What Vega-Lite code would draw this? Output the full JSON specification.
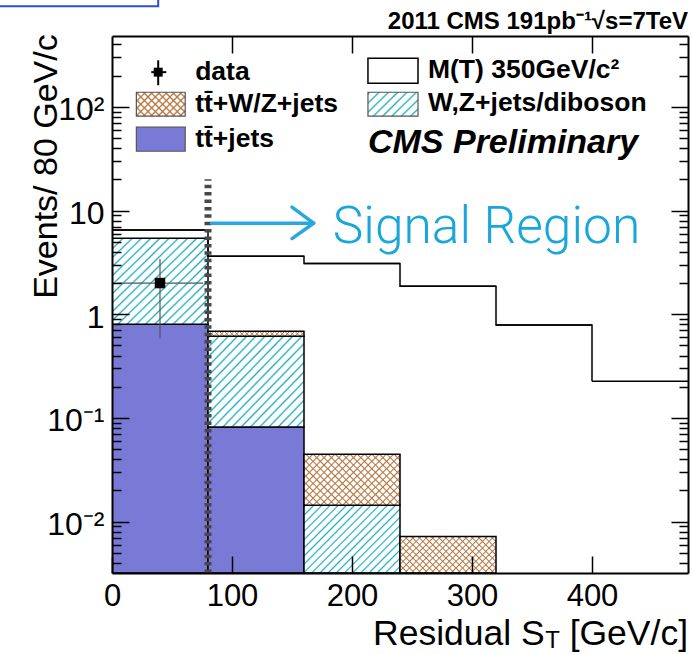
{
  "$schema": "https://vega.github.io/schema/vega-lite/v6.json",
  "width": 576,
  "height": 537,
  "autosize": {"type": "none"},
  "padding": {"left": 112, "top": 36, "right": 5, "bottom": 81},
  "background": "#ffffff",
  "config": {"view": {"stroke": null}, "font": "Liberation Sans"},
  "datasets": {
    "bkg": [
      {"process": "tt̄+jets", "proc": "tt", "lo": 0, "hi": 80, "top": 0.8},
      {"process": "tt̄+jets", "proc": "tt", "lo": 80, "hi": 160, "top": 0.082},
      {"process": "W,Z+jets/diboson", "proc": "wz", "lo": 0, "hi": 80, "bottom": 0.8, "top": 5.4},
      {"process": "W,Z+jets/diboson", "proc": "wz", "lo": 80, "hi": 160, "bottom": 0.082, "top": 0.614},
      {"process": "W,Z+jets/diboson", "proc": "wz", "lo": 160, "hi": 240, "top": 0.0144},
      {"process": "tt̄+W/Z+jets", "proc": "ttv", "lo": 80, "hi": 160, "bottom": 0.614, "top": 0.685},
      {"process": "tt̄+W/Z+jets", "proc": "ttv", "lo": 160, "hi": 240, "bottom": 0.0144, "top": 0.0447},
      {"process": "tt̄+W/Z+jets", "proc": "ttv", "lo": 240, "hi": 320, "top": 0.0072}
    ],
    "sig": [
      {"lo": 0, "hi": 80, "sig": 6.5},
      {"lo": 80, "hi": 160, "sig": 3.63},
      {"lo": 160, "hi": 240, "sig": 3.08},
      {"lo": 240, "hi": 320, "sig": 1.86},
      {"lo": 320, "hi": 400, "sig": 0.79},
      {"lo": 400, "hi": 480, "sig": 0.226}
    ],
    "obs": [
      {"x": 40, "xlo": 4, "xhi": 76, "n": 2, "lo": 0.586, "hi": 3.414}
    ]
  },
  "layer": [
    {
      "layer": [
        {
          "data": {"name": "bkg"},
          "transform": [{"filter": "datum.proc == 'tt'"}],
          "mark": {"type": "rect", "fill": "#787ad6", "stroke": "#000", "strokeWidth": 1.5, "clip": true},
          "encoding": {
            "x": {"field": "lo", "type": "quantitative", "scale": {"domain": [0, 480], "nice": false, "zero": false}, "axis": null},
            "x2": {"field": "hi"},
            "y": {"field": "top", "type": "quantitative", "scale": {"type": "log", "domain": [0.0032, 482], "nice": false}, "axis": null},
            "y2": {"datum": 0.0032}
          }
        },
        {
          "data": {"name": "bkg"},
          "transform": [{"filter": "datum.proc == 'wz' && datum.lo < 160"}],
          "mark": {"type": "rect", "clip": true, "stroke": "#000", "strokeWidth": 1.5,
            "fill": {"gradient": "linear", "x1": 0, "y1": 0, "x2": 1.04, "y2": 0.956, "stops": [
              {"offset":0,"color":"#fff"},{"offset":0.01,"color":"#1aaec1"},{"offset":0.02,"color":"#fff"},
              {"offset":0.05,"color":"#fff"},{"offset":0.06,"color":"#1aaec1"},{"offset":0.07,"color":"#fff"},
              {"offset":0.1,"color":"#fff"},{"offset":0.11,"color":"#1aaec1"},{"offset":0.12,"color":"#fff"},
              {"offset":0.15,"color":"#fff"},{"offset":0.16,"color":"#1aaec1"},{"offset":0.17,"color":"#fff"},
              {"offset":0.2,"color":"#fff"},{"offset":0.21,"color":"#1aaec1"},{"offset":0.22,"color":"#fff"},
              {"offset":0.25,"color":"#fff"},{"offset":0.26,"color":"#1aaec1"},{"offset":0.27,"color":"#fff"},
              {"offset":0.3,"color":"#fff"},{"offset":0.31,"color":"#1aaec1"},{"offset":0.32,"color":"#fff"},
              {"offset":0.35,"color":"#fff"},{"offset":0.36,"color":"#1aaec1"},{"offset":0.37,"color":"#fff"},
              {"offset":0.4,"color":"#fff"},{"offset":0.41,"color":"#1aaec1"},{"offset":0.42,"color":"#fff"},
              {"offset":0.45,"color":"#fff"},{"offset":0.46,"color":"#1aaec1"},{"offset":0.47,"color":"#fff"},
              {"offset":0.5,"color":"#fff"},{"offset":0.51,"color":"#1aaec1"},{"offset":0.52,"color":"#fff"},
              {"offset":0.55,"color":"#fff"},{"offset":0.56,"color":"#1aaec1"},{"offset":0.57,"color":"#fff"},
              {"offset":0.6,"color":"#fff"},{"offset":0.61,"color":"#1aaec1"},{"offset":0.62,"color":"#fff"},
              {"offset":0.65,"color":"#fff"},{"offset":0.66,"color":"#1aaec1"},{"offset":0.67,"color":"#fff"},
              {"offset":0.7,"color":"#fff"},{"offset":0.71,"color":"#1aaec1"},{"offset":0.72,"color":"#fff"},
              {"offset":0.75,"color":"#fff"},{"offset":0.76,"color":"#1aaec1"},{"offset":0.77,"color":"#fff"},
              {"offset":0.8,"color":"#fff"},{"offset":0.81,"color":"#1aaec1"},{"offset":0.82,"color":"#fff"},
              {"offset":0.85,"color":"#fff"},{"offset":0.86,"color":"#1aaec1"},{"offset":0.87,"color":"#fff"},
              {"offset":0.9,"color":"#fff"},{"offset":0.91,"color":"#1aaec1"},{"offset":0.92,"color":"#fff"},
              {"offset":0.95,"color":"#fff"},{"offset":0.96,"color":"#1aaec1"},{"offset":0.97,"color":"#fff"}]}},
          "encoding": {
            "x": {"field": "lo", "type": "quantitative", "scale": {"domain": [0, 480], "nice": false, "zero": false}, "axis": null},
            "x2": {"field": "hi"},
            "y": {"field": "top", "type": "quantitative", "scale": {"type": "log", "domain": [0.0032, 482], "nice": false}, "axis": null},
            "y2": {"field": "bottom"}
          }
        },
        {
          "data": {"name": "bkg"},
          "transform": [{"filter": "datum.proc == 'wz' && datum.lo == 160"}],
          "mark": {"type": "rect", "clip": true, "stroke": "#000", "strokeWidth": 1.5,
            "fill": {"gradient": "linear", "x1": 0, "y1": 0, "x2": 1.1392, "y2": 0.8025, "stops": [
              {"offset":0,"color":"#fff"},{"offset":0.01,"color":"#1aaec1"},{"offset":0.02,"color":"#fff"},
              {"offset":0.05,"color":"#fff"},{"offset":0.06,"color":"#1aaec1"},{"offset":0.07,"color":"#fff"},
              {"offset":0.1,"color":"#fff"},{"offset":0.11,"color":"#1aaec1"},{"offset":0.12,"color":"#fff"},
              {"offset":0.15,"color":"#fff"},{"offset":0.16,"color":"#1aaec1"},{"offset":0.17,"color":"#fff"},
              {"offset":0.2,"color":"#fff"},{"offset":0.21,"color":"#1aaec1"},{"offset":0.22,"color":"#fff"},
              {"offset":0.25,"color":"#fff"},{"offset":0.26,"color":"#1aaec1"},{"offset":0.27,"color":"#fff"},
              {"offset":0.3,"color":"#fff"},{"offset":0.31,"color":"#1aaec1"},{"offset":0.32,"color":"#fff"},
              {"offset":0.35,"color":"#fff"},{"offset":0.36,"color":"#1aaec1"},{"offset":0.37,"color":"#fff"},
              {"offset":0.4,"color":"#fff"},{"offset":0.41,"color":"#1aaec1"},{"offset":0.42,"color":"#fff"},
              {"offset":0.45,"color":"#fff"},{"offset":0.46,"color":"#1aaec1"},{"offset":0.47,"color":"#fff"},
              {"offset":0.5,"color":"#fff"},{"offset":0.51,"color":"#1aaec1"},{"offset":0.52,"color":"#fff"},
              {"offset":0.55,"color":"#fff"},{"offset":0.56,"color":"#1aaec1"},{"offset":0.57,"color":"#fff"},
              {"offset":0.6,"color":"#fff"},{"offset":0.61,"color":"#1aaec1"},{"offset":0.62,"color":"#fff"},
              {"offset":0.65,"color":"#fff"},{"offset":0.66,"color":"#1aaec1"},{"offset":0.67,"color":"#fff"},
              {"offset":0.7,"color":"#fff"},{"offset":0.71,"color":"#1aaec1"},{"offset":0.72,"color":"#fff"},
              {"offset":0.75,"color":"#fff"},{"offset":0.76,"color":"#1aaec1"},{"offset":0.77,"color":"#fff"},
              {"offset":0.8,"color":"#fff"},{"offset":0.81,"color":"#1aaec1"},{"offset":0.82,"color":"#fff"},
              {"offset":0.85,"color":"#fff"},{"offset":0.86,"color":"#1aaec1"},{"offset":0.87,"color":"#fff"},
              {"offset":0.9,"color":"#fff"},{"offset":0.91,"color":"#1aaec1"},{"offset":0.92,"color":"#fff"},
              {"offset":0.95,"color":"#fff"},{"offset":0.96,"color":"#1aaec1"},{"offset":0.97,"color":"#fff"}]}},
          "encoding": {
            "x": {"field": "lo", "type": "quantitative", "scale": {"domain": [0, 480], "nice": false, "zero": false}, "axis": null},
            "x2": {"field": "hi"},
            "y": {"field": "top", "type": "quantitative", "scale": {"type": "log", "domain": [0.0032, 482], "nice": false}, "axis": null},
            "y2": {"datum": 0.0032}
          }
        },
        {
          "data": {"name": "bkg"},
          "transform": [{"filter": "datum.proc == 'ttv' && datum.lo == 80"}],
          "mark": {"type": "rect", "clip": true,
            "fill": {"gradient": "linear", "x1": 0, "y1": 0, "x2": 1.0483, "y2": 0.0534, "stops": [
              {"offset":0,"color":"#fff"},{"offset":0.01,"color":"#b5733c"},{"offset":0.02,"color":"#fff"},
              {"offset":0.05,"color":"#fff"},{"offset":0.06,"color":"#b5733c"},{"offset":0.07,"color":"#fff"},
              {"offset":0.1,"color":"#fff"},{"offset":0.11,"color":"#b5733c"},{"offset":0.12,"color":"#fff"},
              {"offset":0.15,"color":"#fff"},{"offset":0.16,"color":"#b5733c"},{"offset":0.17,"color":"#fff"},
              {"offset":0.2,"color":"#fff"},{"offset":0.21,"color":"#b5733c"},{"offset":0.22,"color":"#fff"},
              {"offset":0.25,"color":"#fff"},{"offset":0.26,"color":"#b5733c"},{"offset":0.27,"color":"#fff"},
              {"offset":0.3,"color":"#fff"},{"offset":0.31,"color":"#b5733c"},{"offset":0.32,"color":"#fff"},
              {"offset":0.35,"color":"#fff"},{"offset":0.36,"color":"#b5733c"},{"offset":0.37,"color":"#fff"},
              {"offset":0.4,"color":"#fff"},{"offset":0.41,"color":"#b5733c"},{"offset":0.42,"color":"#fff"},
              {"offset":0.45,"color":"#fff"},{"offset":0.46,"color":"#b5733c"},{"offset":0.47,"color":"#fff"},
              {"offset":0.5,"color":"#fff"},{"offset":0.51,"color":"#b5733c"},{"offset":0.52,"color":"#fff"},
              {"offset":0.55,"color":"#fff"},{"offset":0.56,"color":"#b5733c"},{"offset":0.57,"color":"#fff"},
              {"offset":0.6,"color":"#fff"},{"offset":0.61,"color":"#b5733c"},{"offset":0.62,"color":"#fff"},
              {"offset":0.65,"color":"#fff"},{"offset":0.66,"color":"#b5733c"},{"offset":0.67,"color":"#fff"},
              {"offset":0.7,"color":"#fff"},{"offset":0.71,"color":"#b5733c"},{"offset":0.72,"color":"#fff"},
              {"offset":0.75,"color":"#fff"},{"offset":0.76,"color":"#b5733c"},{"offset":0.77,"color":"#fff"},
              {"offset":0.8,"color":"#fff"},{"offset":0.81,"color":"#b5733c"},{"offset":0.82,"color":"#fff"},
              {"offset":0.85,"color":"#fff"},{"offset":0.86,"color":"#b5733c"},{"offset":0.87,"color":"#fff"},
              {"offset":0.9,"color":"#fff"},{"offset":0.91,"color":"#b5733c"},{"offset":0.92,"color":"#fff"},
              {"offset":0.95,"color":"#fff"},{"offset":0.96,"color":"#b5733c"},{"offset":0.97,"color":"#fff"}]}},
          "encoding": {
            "x": {"field": "lo", "type": "quantitative", "scale": {"domain": [0, 480], "nice": false, "zero": false}, "axis": null},
            "x2": {"field": "hi"},
            "y": {"field": "top", "type": "quantitative", "scale": {"type": "log", "domain": [0.0032, 482], "nice": false}, "axis": null},
            "y2": {"field": "bottom"}
          }
        },
        {
          "data": {"name": "bkg"},
          "transform": [{"filter": "datum.proc == 'ttv' && datum.lo == 80"}],
          "mark": {"type": "rect", "clip": true, "stroke": "#000", "strokeWidth": 1.5,
            "fill": {"gradient": "linear", "x1": 0, "y1": 1, "x2": 1.0483, "y2": 0.9466, "stops": [
              {"offset":0,"color":"rgba(181,115,60,0)"},{"offset":0.01,"color":"#b5733c"},{"offset":0.02,"color":"rgba(181,115,60,0)"},
              {"offset":0.05,"color":"rgba(181,115,60,0)"},{"offset":0.06,"color":"#b5733c"},{"offset":0.07,"color":"rgba(181,115,60,0)"},
              {"offset":0.1,"color":"rgba(181,115,60,0)"},{"offset":0.11,"color":"#b5733c"},{"offset":0.12,"color":"rgba(181,115,60,0)"},
              {"offset":0.15,"color":"rgba(181,115,60,0)"},{"offset":0.16,"color":"#b5733c"},{"offset":0.17,"color":"rgba(181,115,60,0)"},
              {"offset":0.2,"color":"rgba(181,115,60,0)"},{"offset":0.21,"color":"#b5733c"},{"offset":0.22,"color":"rgba(181,115,60,0)"},
              {"offset":0.25,"color":"rgba(181,115,60,0)"},{"offset":0.26,"color":"#b5733c"},{"offset":0.27,"color":"rgba(181,115,60,0)"},
              {"offset":0.3,"color":"rgba(181,115,60,0)"},{"offset":0.31,"color":"#b5733c"},{"offset":0.32,"color":"rgba(181,115,60,0)"},
              {"offset":0.35,"color":"rgba(181,115,60,0)"},{"offset":0.36,"color":"#b5733c"},{"offset":0.37,"color":"rgba(181,115,60,0)"},
              {"offset":0.4,"color":"rgba(181,115,60,0)"},{"offset":0.41,"color":"#b5733c"},{"offset":0.42,"color":"rgba(181,115,60,0)"},
              {"offset":0.45,"color":"rgba(181,115,60,0)"},{"offset":0.46,"color":"#b5733c"},{"offset":0.47,"color":"rgba(181,115,60,0)"},
              {"offset":0.5,"color":"rgba(181,115,60,0)"},{"offset":0.51,"color":"#b5733c"},{"offset":0.52,"color":"rgba(181,115,60,0)"},
              {"offset":0.55,"color":"rgba(181,115,60,0)"},{"offset":0.56,"color":"#b5733c"},{"offset":0.57,"color":"rgba(181,115,60,0)"},
              {"offset":0.6,"color":"rgba(181,115,60,0)"},{"offset":0.61,"color":"#b5733c"},{"offset":0.62,"color":"rgba(181,115,60,0)"},
              {"offset":0.65,"color":"rgba(181,115,60,0)"},{"offset":0.66,"color":"#b5733c"},{"offset":0.67,"color":"rgba(181,115,60,0)"},
              {"offset":0.7,"color":"rgba(181,115,60,0)"},{"offset":0.71,"color":"#b5733c"},{"offset":0.72,"color":"rgba(181,115,60,0)"},
              {"offset":0.75,"color":"rgba(181,115,60,0)"},{"offset":0.76,"color":"#b5733c"},{"offset":0.77,"color":"rgba(181,115,60,0)"},
              {"offset":0.8,"color":"rgba(181,115,60,0)"},{"offset":0.81,"color":"#b5733c"},{"offset":0.82,"color":"rgba(181,115,60,0)"},
              {"offset":0.85,"color":"rgba(181,115,60,0)"},{"offset":0.86,"color":"#b5733c"},{"offset":0.87,"color":"rgba(181,115,60,0)"},
              {"offset":0.9,"color":"rgba(181,115,60,0)"},{"offset":0.91,"color":"#b5733c"},{"offset":0.92,"color":"rgba(181,115,60,0)"},
              {"offset":0.95,"color":"rgba(181,115,60,0)"},{"offset":0.96,"color":"#b5733c"},{"offset":0.97,"color":"rgba(181,115,60,0)"}]}},
          "encoding": {
            "x": {"field": "lo", "type": "quantitative", "scale": {"domain": [0, 480], "nice": false, "zero": false}, "axis": null},
            "x2": {"field": "hi"},
            "y": {"field": "top", "type": "quantitative", "scale": {"type": "log", "domain": [0.0032, 482], "nice": false}, "axis": null},
            "y2": {"field": "bottom"}
          }
        },
        {
          "data": {"name": "bkg"},
          "transform": [{"filter": "datum.proc == 'ttv' && datum.lo == 160"}],
          "mark": {"type": "rect", "clip": true,
            "fill": {"gradient": "linear", "x1": 0, "y1": 0, "x2": 1.1943, "y2": 0.6338, "stops": [
              {"offset":0,"color":"#fff"},{"offset":0.01,"color":"#b5733c"},{"offset":0.02,"color":"#fff"},
              {"offset":0.05,"color":"#fff"},{"offset":0.06,"color":"#b5733c"},{"offset":0.07,"color":"#fff"},
              {"offset":0.1,"color":"#fff"},{"offset":0.11,"color":"#b5733c"},{"offset":0.12,"color":"#fff"},
              {"offset":0.15,"color":"#fff"},{"offset":0.16,"color":"#b5733c"},{"offset":0.17,"color":"#fff"},
              {"offset":0.2,"color":"#fff"},{"offset":0.21,"color":"#b5733c"},{"offset":0.22,"color":"#fff"},
              {"offset":0.25,"color":"#fff"},{"offset":0.26,"color":"#b5733c"},{"offset":0.27,"color":"#fff"},
              {"offset":0.3,"color":"#fff"},{"offset":0.31,"color":"#b5733c"},{"offset":0.32,"color":"#fff"},
              {"offset":0.35,"color":"#fff"},{"offset":0.36,"color":"#b5733c"},{"offset":0.37,"color":"#fff"},
              {"offset":0.4,"color":"#fff"},{"offset":0.41,"color":"#b5733c"},{"offset":0.42,"color":"#fff"},
              {"offset":0.45,"color":"#fff"},{"offset":0.46,"color":"#b5733c"},{"offset":0.47,"color":"#fff"},
              {"offset":0.5,"color":"#fff"},{"offset":0.51,"color":"#b5733c"},{"offset":0.52,"color":"#fff"},
              {"offset":0.55,"color":"#fff"},{"offset":0.56,"color":"#b5733c"},{"offset":0.57,"color":"#fff"},
              {"offset":0.6,"color":"#fff"},{"offset":0.61,"color":"#b5733c"},{"offset":0.62,"color":"#fff"},
              {"offset":0.65,"color":"#fff"},{"offset":0.66,"color":"#b5733c"},{"offset":0.67,"color":"#fff"},
              {"offset":0.7,"color":"#fff"},{"offset":0.71,"color":"#b5733c"},{"offset":0.72,"color":"#fff"},
              {"offset":0.75,"color":"#fff"},{"offset":0.76,"color":"#b5733c"},{"offset":0.77,"color":"#fff"},
              {"offset":0.8,"color":"#fff"},{"offset":0.81,"color":"#b5733c"},{"offset":0.82,"color":"#fff"},
              {"offset":0.85,"color":"#fff"},{"offset":0.86,"color":"#b5733c"},{"offset":0.87,"color":"#fff"},
              {"offset":0.9,"color":"#fff"},{"offset":0.91,"color":"#b5733c"},{"offset":0.92,"color":"#fff"},
              {"offset":0.95,"color":"#fff"},{"offset":0.96,"color":"#b5733c"},{"offset":0.97,"color":"#fff"}]}},
          "encoding": {
            "x": {"field": "lo", "type": "quantitative", "scale": {"domain": [0, 480], "nice": false, "zero": false}, "axis": null},
            "x2": {"field": "hi"},
            "y": {"field": "top", "type": "quantitative", "scale": {"type": "log", "domain": [0.0032, 482], "nice": false}, "axis": null},
            "y2": {"field": "bottom"}
          }
        },
        {
          "data": {"name": "bkg"},
          "transform": [{"filter": "datum.proc == 'ttv' && datum.lo == 160"}],
          "mark": {"type": "rect", "clip": true, "stroke": "#000", "strokeWidth": 1.5,
            "fill": {"gradient": "linear", "x1": 0, "y1": 1, "x2": 1.1943, "y2": 0.3662, "stops": [
              {"offset":0,"color":"rgba(181,115,60,0)"},{"offset":0.01,"color":"#b5733c"},{"offset":0.02,"color":"rgba(181,115,60,0)"},
              {"offset":0.05,"color":"rgba(181,115,60,0)"},{"offset":0.06,"color":"#b5733c"},{"offset":0.07,"color":"rgba(181,115,60,0)"},
              {"offset":0.1,"color":"rgba(181,115,60,0)"},{"offset":0.11,"color":"#b5733c"},{"offset":0.12,"color":"rgba(181,115,60,0)"},
              {"offset":0.15,"color":"rgba(181,115,60,0)"},{"offset":0.16,"color":"#b5733c"},{"offset":0.17,"color":"rgba(181,115,60,0)"},
              {"offset":0.2,"color":"rgba(181,115,60,0)"},{"offset":0.21,"color":"#b5733c"},{"offset":0.22,"color":"rgba(181,115,60,0)"},
              {"offset":0.25,"color":"rgba(181,115,60,0)"},{"offset":0.26,"color":"#b5733c"},{"offset":0.27,"color":"rgba(181,115,60,0)"},
              {"offset":0.3,"color":"rgba(181,115,60,0)"},{"offset":0.31,"color":"#b5733c"},{"offset":0.32,"color":"rgba(181,115,60,0)"},
              {"offset":0.35,"color":"rgba(181,115,60,0)"},{"offset":0.36,"color":"#b5733c"},{"offset":0.37,"color":"rgba(181,115,60,0)"},
              {"offset":0.4,"color":"rgba(181,115,60,0)"},{"offset":0.41,"color":"#b5733c"},{"offset":0.42,"color":"rgba(181,115,60,0)"},
              {"offset":0.45,"color":"rgba(181,115,60,0)"},{"offset":0.46,"color":"#b5733c"},{"offset":0.47,"color":"rgba(181,115,60,0)"},
              {"offset":0.5,"color":"rgba(181,115,60,0)"},{"offset":0.51,"color":"#b5733c"},{"offset":0.52,"color":"rgba(181,115,60,0)"},
              {"offset":0.55,"color":"rgba(181,115,60,0)"},{"offset":0.56,"color":"#b5733c"},{"offset":0.57,"color":"rgba(181,115,60,0)"},
              {"offset":0.6,"color":"rgba(181,115,60,0)"},{"offset":0.61,"color":"#b5733c"},{"offset":0.62,"color":"rgba(181,115,60,0)"},
              {"offset":0.65,"color":"rgba(181,115,60,0)"},{"offset":0.66,"color":"#b5733c"},{"offset":0.67,"color":"rgba(181,115,60,0)"},
              {"offset":0.7,"color":"rgba(181,115,60,0)"},{"offset":0.71,"color":"#b5733c"},{"offset":0.72,"color":"rgba(181,115,60,0)"},
              {"offset":0.75,"color":"rgba(181,115,60,0)"},{"offset":0.76,"color":"#b5733c"},{"offset":0.77,"color":"rgba(181,115,60,0)"},
              {"offset":0.8,"color":"rgba(181,115,60,0)"},{"offset":0.81,"color":"#b5733c"},{"offset":0.82,"color":"rgba(181,115,60,0)"},
              {"offset":0.85,"color":"rgba(181,115,60,0)"},{"offset":0.86,"color":"#b5733c"},{"offset":0.87,"color":"rgba(181,115,60,0)"},
              {"offset":0.9,"color":"rgba(181,115,60,0)"},{"offset":0.91,"color":"#b5733c"},{"offset":0.92,"color":"rgba(181,115,60,0)"},
              {"offset":0.95,"color":"rgba(181,115,60,0)"},{"offset":0.96,"color":"#b5733c"},{"offset":0.97,"color":"rgba(181,115,60,0)"}]}},
          "encoding": {
            "x": {"field": "lo", "type": "quantitative", "scale": {"domain": [0, 480], "nice": false, "zero": false}, "axis": null},
            "x2": {"field": "hi"},
            "y": {"field": "top", "type": "quantitative", "scale": {"type": "log", "domain": [0.0032, 482], "nice": false}, "axis": null},
            "y2": {"field": "bottom"}
          }
        },
        {
          "data": {"name": "bkg"},
          "transform": [{"filter": "datum.proc == 'ttv' && datum.lo == 240"}],
          "mark": {"type": "rect", "clip": true,
            "fill": {"gradient": "linear", "x1": 0, "y1": 0, "x2": 1.2059, "y2": 0.458, "stops": [
              {"offset":0,"color":"#fff"},{"offset":0.01,"color":"#b5733c"},{"offset":0.02,"color":"#fff"},
              {"offset":0.05,"color":"#fff"},{"offset":0.06,"color":"#b5733c"},{"offset":0.07,"color":"#fff"},
              {"offset":0.1,"color":"#fff"},{"offset":0.11,"color":"#b5733c"},{"offset":0.12,"color":"#fff"},
              {"offset":0.15,"color":"#fff"},{"offset":0.16,"color":"#b5733c"},{"offset":0.17,"color":"#fff"},
              {"offset":0.2,"color":"#fff"},{"offset":0.21,"color":"#b5733c"},{"offset":0.22,"color":"#fff"},
              {"offset":0.25,"color":"#fff"},{"offset":0.26,"color":"#b5733c"},{"offset":0.27,"color":"#fff"},
              {"offset":0.3,"color":"#fff"},{"offset":0.31,"color":"#b5733c"},{"offset":0.32,"color":"#fff"},
              {"offset":0.35,"color":"#fff"},{"offset":0.36,"color":"#b5733c"},{"offset":0.37,"color":"#fff"},
              {"offset":0.4,"color":"#fff"},{"offset":0.41,"color":"#b5733c"},{"offset":0.42,"color":"#fff"},
              {"offset":0.45,"color":"#fff"},{"offset":0.46,"color":"#b5733c"},{"offset":0.47,"color":"#fff"},
              {"offset":0.5,"color":"#fff"},{"offset":0.51,"color":"#b5733c"},{"offset":0.52,"color":"#fff"},
              {"offset":0.55,"color":"#fff"},{"offset":0.56,"color":"#b5733c"},{"offset":0.57,"color":"#fff"},
              {"offset":0.6,"color":"#fff"},{"offset":0.61,"color":"#b5733c"},{"offset":0.62,"color":"#fff"},
              {"offset":0.65,"color":"#fff"},{"offset":0.66,"color":"#b5733c"},{"offset":0.67,"color":"#fff"},
              {"offset":0.7,"color":"#fff"},{"offset":0.71,"color":"#b5733c"},{"offset":0.72,"color":"#fff"},
              {"offset":0.75,"color":"#fff"},{"offset":0.76,"color":"#b5733c"},{"offset":0.77,"color":"#fff"},
              {"offset":0.8,"color":"#fff"},{"offset":0.81,"color":"#b5733c"},{"offset":0.82,"color":"#fff"},
              {"offset":0.85,"color":"#fff"},{"offset":0.86,"color":"#b5733c"},{"offset":0.87,"color":"#fff"},
              {"offset":0.9,"color":"#fff"},{"offset":0.91,"color":"#b5733c"},{"offset":0.92,"color":"#fff"},
              {"offset":0.95,"color":"#fff"},{"offset":0.96,"color":"#b5733c"},{"offset":0.97,"color":"#fff"}]}},
          "encoding": {
            "x": {"field": "lo", "type": "quantitative", "scale": {"domain": [0, 480], "nice": false, "zero": false}, "axis": null},
            "x2": {"field": "hi"},
            "y": {"field": "top", "type": "quantitative", "scale": {"type": "log", "domain": [0.0032, 482], "nice": false}, "axis": null},
            "y2": {"datum": 0.0032}
          }
        },
        {
          "data": {"name": "bkg"},
          "transform": [{"filter": "datum.proc == 'ttv' && datum.lo == 240"}],
          "mark": {"type": "rect", "clip": true, "stroke": "#000", "strokeWidth": 1.5,
            "fill": {"gradient": "linear", "x1": 0, "y1": 1, "x2": 1.2059, "y2": 0.542, "stops": [
              {"offset":0,"color":"rgba(181,115,60,0)"},{"offset":0.01,"color":"#b5733c"},{"offset":0.02,"color":"rgba(181,115,60,0)"},
              {"offset":0.05,"color":"rgba(181,115,60,0)"},{"offset":0.06,"color":"#b5733c"},{"offset":0.07,"color":"rgba(181,115,60,0)"},
              {"offset":0.1,"color":"rgba(181,115,60,0)"},{"offset":0.11,"color":"#b5733c"},{"offset":0.12,"color":"rgba(181,115,60,0)"},
              {"offset":0.15,"color":"rgba(181,115,60,0)"},{"offset":0.16,"color":"#b5733c"},{"offset":0.17,"color":"rgba(181,115,60,0)"},
              {"offset":0.2,"color":"rgba(181,115,60,0)"},{"offset":0.21,"color":"#b5733c"},{"offset":0.22,"color":"rgba(181,115,60,0)"},
              {"offset":0.25,"color":"rgba(181,115,60,0)"},{"offset":0.26,"color":"#b5733c"},{"offset":0.27,"color":"rgba(181,115,60,0)"},
              {"offset":0.3,"color":"rgba(181,115,60,0)"},{"offset":0.31,"color":"#b5733c"},{"offset":0.32,"color":"rgba(181,115,60,0)"},
              {"offset":0.35,"color":"rgba(181,115,60,0)"},{"offset":0.36,"color":"#b5733c"},{"offset":0.37,"color":"rgba(181,115,60,0)"},
              {"offset":0.4,"color":"rgba(181,115,60,0)"},{"offset":0.41,"color":"#b5733c"},{"offset":0.42,"color":"rgba(181,115,60,0)"},
              {"offset":0.45,"color":"rgba(181,115,60,0)"},{"offset":0.46,"color":"#b5733c"},{"offset":0.47,"color":"rgba(181,115,60,0)"},
              {"offset":0.5,"color":"rgba(181,115,60,0)"},{"offset":0.51,"color":"#b5733c"},{"offset":0.52,"color":"rgba(181,115,60,0)"},
              {"offset":0.55,"color":"rgba(181,115,60,0)"},{"offset":0.56,"color":"#b5733c"},{"offset":0.57,"color":"rgba(181,115,60,0)"},
              {"offset":0.6,"color":"rgba(181,115,60,0)"},{"offset":0.61,"color":"#b5733c"},{"offset":0.62,"color":"rgba(181,115,60,0)"},
              {"offset":0.65,"color":"rgba(181,115,60,0)"},{"offset":0.66,"color":"#b5733c"},{"offset":0.67,"color":"rgba(181,115,60,0)"},
              {"offset":0.7,"color":"rgba(181,115,60,0)"},{"offset":0.71,"color":"#b5733c"},{"offset":0.72,"color":"rgba(181,115,60,0)"},
              {"offset":0.75,"color":"rgba(181,115,60,0)"},{"offset":0.76,"color":"#b5733c"},{"offset":0.77,"color":"rgba(181,115,60,0)"},
              {"offset":0.8,"color":"rgba(181,115,60,0)"},{"offset":0.81,"color":"#b5733c"},{"offset":0.82,"color":"rgba(181,115,60,0)"},
              {"offset":0.85,"color":"rgba(181,115,60,0)"},{"offset":0.86,"color":"#b5733c"},{"offset":0.87,"color":"rgba(181,115,60,0)"},
              {"offset":0.9,"color":"rgba(181,115,60,0)"},{"offset":0.91,"color":"#b5733c"},{"offset":0.92,"color":"rgba(181,115,60,0)"},
              {"offset":0.95,"color":"rgba(181,115,60,0)"},{"offset":0.96,"color":"#b5733c"},{"offset":0.97,"color":"rgba(181,115,60,0)"}]}},
          "encoding": {
            "x": {"field": "lo", "type": "quantitative", "scale": {"domain": [0, 480], "nice": false, "zero": false}, "axis": null},
            "x2": {"field": "hi"},
            "y": {"field": "top", "type": "quantitative", "scale": {"type": "log", "domain": [0.0032, 482], "nice": false}, "axis": null},
            "y2": {"datum": 0.0032}
          }
        },
        {
          "data": {"name": "sig"},
          "mark": {"type": "rule", "color": "#000", "strokeWidth": 1.5, "clip": true},
          "encoding": {
            "x": {"field": "lo", "type": "quantitative", "scale": {"domain": [0, 480], "nice": false, "zero": false}, "axis": null},
            "x2": {"field": "hi"},
            "y": {"field": "sig", "type": "quantitative", "scale": {"type": "log", "domain": [0.0032, 482], "nice": false}, "axis": null}
          }
        },
        {
          "data": {"name": "sig"},
          "mark": {"type": "line", "interpolate": "step-after", "color": "#000", "strokeWidth": 1.5, "clip": true},
          "encoding": {
            "x": {"field": "lo", "type": "quantitative", "scale": {"domain": [0, 480], "nice": false, "zero": false}, "axis": null},
            "y": {"field": "sig", "type": "quantitative", "scale": {"type": "log", "domain": [0.0032, 482], "nice": false}, "axis": null}
          }
        },
        {
          "data": {"values": [{}]},
          "mark": {"type": "rule", "color": "#484848", "strokeWidth": 7, "strokeDash": [3.5, 3.9]},
          "encoding": {
            "x": {"datum": 80, "type": "quantitative", "scale": {"domain": [0, 480], "nice": false, "zero": false}, "axis": null},
            "y": {"datum": 0.0032, "type": "quantitative", "scale": {"type": "log", "domain": [0.0032, 482], "nice": false}, "axis": null},
            "y2": {"datum": 20}
          }
        },
        {
          "data": {"name": "obs"},
          "mark": {"type": "rule", "color": "#555", "strokeWidth": 1.2},
          "encoding": {
            "x": {"field": "xlo", "type": "quantitative", "scale": {"domain": [0, 480], "nice": false, "zero": false}, "axis": null},
            "x2": {"field": "xhi"},
            "y": {"field": "n", "type": "quantitative", "scale": {"type": "log", "domain": [0.0032, 482], "nice": false}, "axis": null}
          }
        },
        {
          "data": {"name": "obs"},
          "mark": {"type": "rule", "color": "#555", "strokeWidth": 1.2},
          "encoding": {
            "x": {"field": "x", "type": "quantitative", "scale": {"domain": [0, 480], "nice": false, "zero": false}, "axis": null},
            "y": {"field": "lo", "type": "quantitative", "scale": {"type": "log", "domain": [0.0032, 482], "nice": false}, "axis": null},
            "y2": {"field": "hi"}
          }
        },
        {
          "data": {"name": "obs"},
          "mark": {"type": "point", "shape": "square", "filled": true, "fill": "#000", "size": 110, "opacity": 1},
          "encoding": {
            "x": {"field": "x", "type": "quantitative", "scale": {"domain": [0, 480], "nice": false, "zero": false}, "axis": null},
            "y": {"field": "n", "type": "quantitative", "scale": {"type": "log", "domain": [0.0032, 482], "nice": false}, "axis": null}
          }
        },
        {
          "data": {"values": [{}]},
          "mark": {"type": "rule", "color": "#29a8df", "strokeWidth": 3.5, "strokeCap": "round"},
          "encoding": {
            "x": {"datum": 83, "type": "quantitative", "scale": {"domain": [0, 480], "nice": false, "zero": false}, "axis": null},
            "x2": {"datum": 168},
            "y": {"datum": 7.55, "type": "quantitative", "scale": {"type": "log", "domain": [0.0032, 482], "nice": false}, "axis": null}
          }
        },
        {
          "data": {"values": [{}]},
          "mark": {"type": "rule", "color": "#29a8df", "strokeWidth": 3.5, "strokeCap": "round"},
          "encoding": {
            "x": {"datum": 150, "type": "quantitative", "scale": {"domain": [0, 480], "nice": false, "zero": false}, "axis": null},
            "x2": {"datum": 168},
            "y": {"datum": 10.8, "type": "quantitative", "scale": {"type": "log", "domain": [0.0032, 482], "nice": false}, "axis": null},
            "y2": {"datum": 7.55}
          }
        },
        {
          "data": {"values": [{}]},
          "mark": {"type": "rule", "color": "#29a8df", "strokeWidth": 3.5, "strokeCap": "round"},
          "encoding": {
            "x": {"datum": 150, "type": "quantitative", "scale": {"domain": [0, 480], "nice": false, "zero": false}, "axis": null},
            "x2": {"datum": 168},
            "y": {"datum": 5.37, "type": "quantitative", "scale": {"type": "log", "domain": [0.0032, 482], "nice": false}, "axis": null},
            "y2": {"datum": 7.55}
          }
        },
        {
          "data": {"values": [{}]},
          "mark": {"type": "text", "text": "Signal Region", "align": "left", "baseline": "alphabetic", "font": "Roboto", "fontWeight": 300, "fontSize": 51.5, "fill": "#19a7db"},
          "encoding": {
            "x": {"datum": 184, "type": "quantitative", "scale": {"domain": [0, 480], "nice": false, "zero": false}, "axis": null},
            "y": {"datum": 4.84, "type": "quantitative", "scale": {"type": "log", "domain": [0.0032, 482], "nice": false}, "axis": null}
          }
        },
        {
          "data": {"values": [{}]},
          "mark": {"type": "text", "text": "CMS Preliminary", "align": "left", "baseline": "alphabetic", "font": "Liberation Sans", "fontWeight": "bold", "fontStyle": "italic", "fontSize": 34, "fill": "#000"},
          "encoding": {
            "x": {"datum": 213.3, "type": "quantitative", "scale": {"domain": [0, 480], "nice": false, "zero": false}, "axis": null},
            "y": {"datum": 35.6, "type": "quantitative", "scale": {"type": "log", "domain": [0.0032, 482], "nice": false}, "axis": null}
          }
        },
        {
          "data": {"values": [{}]},
          "mark": {"type": "rule", "color": "#000", "strokeWidth": 2},
          "encoding": {
            "x": {"datum": 38.5, "type": "quantitative", "scale": {"domain": [0, 480], "nice": false, "zero": false}, "axis": null},
            "y": {"datum": 281, "type": "quantitative", "scale": {"type": "log", "domain": [0.0032, 482], "nice": false}, "axis": null},
            "y2": {"datum": 161.6}
          }
        },
        {
          "data": {"values": [{}]},
          "mark": {"type": "rule", "color": "#000", "strokeWidth": 2},
          "encoding": {
            "x": {"datum": 32.7, "type": "quantitative", "scale": {"domain": [0, 480], "nice": false, "zero": false}, "axis": null},
            "x2": {"datum": 45.2},
            "y": {"datum": 216, "type": "quantitative", "scale": {"type": "log", "domain": [0.0032, 482], "nice": false}, "axis": null}
          }
        },
        {
          "data": {"values": [{}]},
          "mark": {"type": "point", "shape": "square", "filled": true, "fill": "#000", "size": 80, "opacity": 1},
          "encoding": {
            "x": {"datum": 38.5, "type": "quantitative", "scale": {"domain": [0, 480], "nice": false, "zero": false}, "axis": null},
            "y": {"datum": 216, "type": "quantitative", "scale": {"type": "log", "domain": [0.0032, 482], "nice": false}, "axis": null}
          }
        },
        {
          "data": {"values": [{}]},
          "mark": {"type": "rect",
            "fill": {"gradient": "linear", "x1": 0, "y1": 0, "x2": 1.2015, "y2": 0.5885, "stops": [
              {"offset":0,"color":"#fff"},{"offset":0.025,"color":"#b5733c"},{"offset":0.05,"color":"#fff"},
              {"offset":0.1,"color":"#fff"},{"offset":0.125,"color":"#b5733c"},{"offset":0.15,"color":"#fff"},
              {"offset":0.2,"color":"#fff"},{"offset":0.225,"color":"#b5733c"},{"offset":0.25,"color":"#fff"},
              {"offset":0.3,"color":"#fff"},{"offset":0.325,"color":"#b5733c"},{"offset":0.35,"color":"#fff"},
              {"offset":0.4,"color":"#fff"},{"offset":0.425,"color":"#b5733c"},{"offset":0.45,"color":"#fff"},
              {"offset":0.5,"color":"#fff"},{"offset":0.525,"color":"#b5733c"},{"offset":0.55,"color":"#fff"},
              {"offset":0.6,"color":"#fff"},{"offset":0.625,"color":"#b5733c"},{"offset":0.65,"color":"#fff"},
              {"offset":0.7,"color":"#fff"},{"offset":0.725,"color":"#b5733c"},{"offset":0.75,"color":"#fff"},
              {"offset":0.8,"color":"#fff"},{"offset":0.825,"color":"#b5733c"},{"offset":0.85,"color":"#fff"},
              {"offset":0.9,"color":"#fff"},{"offset":0.925,"color":"#b5733c"},{"offset":0.95,"color":"#fff"}]}},
          "encoding": {
            "x": {"datum": 20.3, "type": "quantitative", "scale": {"domain": [0, 480], "nice": false, "zero": false}, "axis": null},
            "x2": {"datum": 61},
            "y": {"datum": 138.3, "type": "quantitative", "scale": {"type": "log", "domain": [0.0032, 482], "nice": false}, "axis": null},
            "y2": {"datum": 81.2}
          }
        },
        {
          "data": {"values": [{}]},
          "mark": {"type": "rect", "stroke": "#555", "strokeWidth": 1.2,
            "fill": {"gradient": "linear", "x1": 0, "y1": 1, "x2": 1.2015, "y2": 0.4115, "stops": [
              {"offset":0,"color":"rgba(181,115,60,0)"},{"offset":0.025,"color":"#b5733c"},{"offset":0.05,"color":"rgba(181,115,60,0)"},
              {"offset":0.1,"color":"rgba(181,115,60,0)"},{"offset":0.125,"color":"#b5733c"},{"offset":0.15,"color":"rgba(181,115,60,0)"},
              {"offset":0.2,"color":"rgba(181,115,60,0)"},{"offset":0.225,"color":"#b5733c"},{"offset":0.25,"color":"rgba(181,115,60,0)"},
              {"offset":0.3,"color":"rgba(181,115,60,0)"},{"offset":0.325,"color":"#b5733c"},{"offset":0.35,"color":"rgba(181,115,60,0)"},
              {"offset":0.4,"color":"rgba(181,115,60,0)"},{"offset":0.425,"color":"#b5733c"},{"offset":0.45,"color":"rgba(181,115,60,0)"},
              {"offset":0.5,"color":"rgba(181,115,60,0)"},{"offset":0.525,"color":"#b5733c"},{"offset":0.55,"color":"rgba(181,115,60,0)"},
              {"offset":0.6,"color":"rgba(181,115,60,0)"},{"offset":0.625,"color":"#b5733c"},{"offset":0.65,"color":"rgba(181,115,60,0)"},
              {"offset":0.7,"color":"rgba(181,115,60,0)"},{"offset":0.725,"color":"#b5733c"},{"offset":0.75,"color":"rgba(181,115,60,0)"},
              {"offset":0.8,"color":"rgba(181,115,60,0)"},{"offset":0.825,"color":"#b5733c"},{"offset":0.85,"color":"rgba(181,115,60,0)"},
              {"offset":0.9,"color":"rgba(181,115,60,0)"},{"offset":0.925,"color":"#b5733c"},{"offset":0.95,"color":"rgba(181,115,60,0)"}]}},
          "encoding": {
            "x": {"datum": 20.3, "type": "quantitative", "scale": {"domain": [0, 480], "nice": false, "zero": false}, "axis": null},
            "x2": {"datum": 61},
            "y": {"datum": 138.3, "type": "quantitative", "scale": {"type": "log", "domain": [0.0032, 482], "nice": false}, "axis": null},
            "y2": {"datum": 81.2}
          }
        },
        {
          "data": {"values": [{}]},
          "mark": {"type": "rect", "fill": "#787ad6", "stroke": "#555", "strokeWidth": 1.2},
          "encoding": {
            "x": {"datum": 20.3, "type": "quantitative", "scale": {"domain": [0, 480], "nice": false, "zero": false}, "axis": null},
            "x2": {"datum": 61},
            "y": {"datum": 63.6, "type": "quantitative", "scale": {"type": "log", "domain": [0.0032, 482], "nice": false}, "axis": null},
            "y2": {"datum": 37.3}
          }
        },
        {
          "data": {"values": [{}]},
          "mark": {"type": "rect", "fill": "#fff", "stroke": "#000", "strokeWidth": 1.5},
          "encoding": {
            "x": {"datum": 213.3, "type": "quantitative", "scale": {"domain": [0, 480], "nice": false, "zero": false}, "axis": null},
            "x2": {"datum": 255},
            "y": {"datum": 294, "type": "quantitative", "scale": {"type": "log", "domain": [0.0032, 482], "nice": false}, "axis": null},
            "y2": {"datum": 168.9}
          }
        },
        {
          "data": {"values": [{}]},
          "mark": {"type": "rect", "stroke": "#555", "strokeWidth": 1.2,
            "fill": {"gradient": "linear", "x1": 0, "y1": 0, "x2": 1.2015, "y2": 0.5885, "stops": [
              {"offset":0,"color":"#fff"},{"offset":0.025,"color":"#1aaec1"},{"offset":0.05,"color":"#fff"},
              {"offset":0.125,"color":"#fff"},{"offset":0.15,"color":"#1aaec1"},{"offset":0.175,"color":"#fff"},
              {"offset":0.25,"color":"#fff"},{"offset":0.275,"color":"#1aaec1"},{"offset":0.3,"color":"#fff"},
              {"offset":0.375,"color":"#fff"},{"offset":0.4,"color":"#1aaec1"},{"offset":0.425,"color":"#fff"},
              {"offset":0.5,"color":"#fff"},{"offset":0.525,"color":"#1aaec1"},{"offset":0.55,"color":"#fff"},
              {"offset":0.625,"color":"#fff"},{"offset":0.65,"color":"#1aaec1"},{"offset":0.675,"color":"#fff"},
              {"offset":0.75,"color":"#fff"},{"offset":0.775,"color":"#1aaec1"},{"offset":0.8,"color":"#fff"},
              {"offset":0.875,"color":"#fff"},{"offset":0.9,"color":"#1aaec1"},{"offset":0.925,"color":"#fff"}]}},
          "encoding": {
            "x": {"datum": 213.3, "type": "quantitative", "scale": {"domain": [0, 480], "nice": false, "zero": false}, "axis": null},
            "x2": {"datum": 255},
            "y": {"datum": 138.3, "type": "quantitative", "scale": {"type": "log", "domain": [0.0032, 482], "nice": false}, "axis": null},
            "y2": {"datum": 81.2}
          }
        },
        {
          "data": {"values": [{}]},
          "mark": {"type": "text", "text": "data", "align": "left", "baseline": "middle", "font": "Liberation Sans", "fontWeight": "bold", "fontSize": 26.5, "fill": "#000"},
          "encoding": {
            "x": {"datum": 69.3, "type": "quantitative", "scale": {"domain": [0, 480], "nice": false, "zero": false}, "axis": null},
            "y": {"datum": 216, "type": "quantitative", "scale": {"type": "log", "domain": [0.0032, 482], "nice": false}, "axis": null}
          }
        },
        {
          "data": {"values": [{}]},
          "mark": {"type": "text", "text": "tt̄+W/Z+jets", "align": "left", "baseline": "middle", "font": "Liberation Sans", "fontWeight": "bold", "fontSize": 26.5, "fill": "#000"},
          "encoding": {
            "x": {"datum": 69.3, "type": "quantitative", "scale": {"domain": [0, 480], "nice": false, "zero": false}, "axis": null},
            "y": {"datum": 106.3, "type": "quantitative", "scale": {"type": "log", "domain": [0.0032, 482], "nice": false}, "axis": null}
          }
        },
        {
          "data": {"values": [{}]},
          "mark": {"type": "text", "text": "tt̄+jets", "align": "left", "baseline": "middle", "font": "Liberation Sans", "fontWeight": "bold", "fontSize": 26.5, "fill": "#000"},
          "encoding": {
            "x": {"datum": 69.3, "type": "quantitative", "scale": {"domain": [0, 480], "nice": false, "zero": false}, "axis": null},
            "y": {"datum": 48.6, "type": "quantitative", "scale": {"type": "log", "domain": [0.0032, 482], "nice": false}, "axis": null}
          }
        },
        {
          "data": {"values": [{}]},
          "mark": {"type": "text", "text": "M(T) 350GeV/c²", "align": "left", "baseline": "middle", "font": "Liberation Sans", "fontWeight": "bold", "fontSize": 26.5, "fill": "#000"},
          "encoding": {
            "x": {"datum": 263.3, "type": "quantitative", "scale": {"domain": [0, 480], "nice": false, "zero": false}, "axis": null},
            "y": {"datum": 225, "type": "quantitative", "scale": {"type": "log", "domain": [0.0032, 482], "nice": false}, "axis": null}
          }
        },
        {
          "data": {"values": [{}]},
          "mark": {"type": "text", "text": "W,Z+jets/diboson", "align": "left", "baseline": "middle", "font": "Liberation Sans", "fontWeight": "bold", "fontSize": 26.5, "fill": "#000"},
          "encoding": {
            "x": {"datum": 263.3, "type": "quantitative", "scale": {"domain": [0, 480], "nice": false, "zero": false}, "axis": null},
            "y": {"datum": 108.6, "type": "quantitative", "scale": {"type": "log", "domain": [0.0032, 482], "nice": false}, "axis": null}
          }
        },
        {
          "data": {"values": [{}]},
          "mark": {"type": "text", "text": "Events/ 80 GeV/c", "angle": 270, "align": "right", "baseline": "alphabetic", "font": "Liberation Sans", "fontSize": 34, "fill": "#000"},
          "encoding": {
            "x": {"datum": -45.5, "type": "quantitative", "scale": {"domain": [0, 480], "nice": false, "zero": false}, "axis": null},
            "y": {"datum": 501, "type": "quantitative", "scale": {"type": "log", "domain": [0.0032, 482], "nice": false}, "axis": null}
          }
        },
        {
          "data": {"values": [{}]},
          "mark": {"type": "text", "text": "Residual S", "align": "right", "baseline": "alphabetic", "font": "Liberation Sans", "fontSize": 35.5, "fill": "#000"},
          "encoding": {
            "x": {"datum": 360.6, "type": "quantitative", "scale": {"domain": [0, 480], "nice": false, "zero": false}, "axis": null},
            "y": {"datum": 0.000643, "type": "quantitative", "scale": {"type": "log", "domain": [0.0032, 482], "nice": false}, "axis": null}
          }
        },
        {
          "data": {"values": [{}]},
          "mark": {"type": "text", "text": "T", "align": "left", "baseline": "alphabetic", "font": "Liberation Sans", "fontSize": 24, "fill": "#000"},
          "encoding": {
            "x": {"datum": 361.1, "type": "quantitative", "scale": {"domain": [0, 480], "nice": false, "zero": false}, "axis": null},
            "y": {"datum": 0.000601, "type": "quantitative", "scale": {"type": "log", "domain": [0.0032, 482], "nice": false}, "axis": null}
          }
        },
        {
          "data": {"values": [{}]},
          "mark": {"type": "text", "text": "[GeV/c]", "align": "right", "baseline": "alphabetic", "font": "Liberation Sans", "fontSize": 35.5, "fill": "#000"},
          "encoding": {
            "x": {"datum": 480, "type": "quantitative", "scale": {"domain": [0, 480], "nice": false, "zero": false}, "axis": null},
            "y": {"datum": 0.000643, "type": "quantitative", "scale": {"type": "log", "domain": [0.0032, 482], "nice": false}, "axis": null}
          }
        },
        {
          "data": {"values": [{}]},
          "mark": {"type": "text", "text": "2011 CMS 191pb⁻¹√s=7TeV", "align": "right", "baseline": "alphabetic", "font": "Liberation Sans", "fontWeight": "bold", "fontSize": 24, "fill": "#000"},
          "encoding": {
            "x": {"datum": 480, "type": "quantitative", "scale": {"domain": [0, 480], "nice": false, "zero": false}, "axis": null},
            "y": {"datum": 560, "type": "quantitative", "scale": {"type": "log", "domain": [0.0032, 482], "nice": false}, "axis": null}
          }
        },
        {
          "data": {"values": [{}]},
          "mark": {"type": "rect", "fill": "#fff", "fillOpacity": 0, "stroke": "#2d4fd6", "strokeWidth": 2},
          "encoding": {
            "x": {"datum": -100, "type": "quantitative", "scale": {"domain": [0, 480], "nice": false, "zero": false}, "axis": null},
            "x2": {"datum": 38.5},
            "y": {"datum": 933, "type": "quantitative", "scale": {"type": "log", "domain": [0.0032, 482], "nice": false}, "axis": null},
            "y2": {"datum": 3000}
          }
        }
      ]
    },
    {
      "data": {"values": [{}]},
      "mark": {"type": "point", "opacity": 0},
      "encoding": {
        "x": {"datum": 100, "type": "quantitative", "scale": {"domain": [0, 480], "nice": false, "zero": false},
          "axis": {"orient": "bottom", "values": [0, 100, 200, 300, 400], "title": null, "grid": false, "domain": true, "domainColor": "#000", "domainWidth": 2, "tickSize": -17, "tickWidth": 1.5, "tickColor": "#000", "labelPadding": 25, "labelFont": "Liberation Sans", "labelFontSize": 31, "labelColor": "#000", "labelFlush": false, "labelOverlap": false, "labelBound": false, "zindex": 2}},
        "y": {"datum": 1, "type": "quantitative", "scale": {"type": "log", "domain": [0.0032, 482], "nice": false},
          "axis": {"orient": "left", "values": [0.004,0.005,0.006,0.007,0.008,0.009,0.01,0.02,0.03,0.04,0.05,0.06,0.07,0.08,0.09,0.1,0.2,0.3,0.4,0.5,0.6,0.7,0.8,0.9,1,2,3,4,5,6,7,8,9,10,20,30,40,50,60,70,80,90,100,200,300,400],
            "title": null, "grid": false, "domain": true, "domainColor": "#000", "domainWidth": 2,
            "tickSize": {"condition": {"test": "indexof([0.01,0.1,1,10,100], datum.value) >= 0", "value": -17}, "value": -9},
            "tickWidth": 1.5, "tickColor": "#000",
            "labelExpr": "datum.value === 100 ? '10²' : datum.value === 10 ? '10' : datum.value === 1 ? '1' : datum.value === 0.1 ? '10⁻¹' : datum.value === 0.01 ? '10⁻²' : ''",
            "labelPadding": 25, "labelOffset": 3, "labelFont": "Liberation Sans", "labelFontSize": 32, "labelColor": "#000", "labelFlush": false, "labelOverlap": false, "labelBound": false, "zindex": 2}}
      }
    },
    {
      "data": {"values": [{}]},
      "mark": {"type": "point", "opacity": 0},
      "encoding": {
        "x": {"datum": 100, "type": "quantitative", "scale": {"domain": [0, 480], "nice": false, "zero": false},
          "axis": {"orient": "top", "values": [100, 200, 300, 400], "labels": false, "title": null, "grid": false, "domain": true, "domainColor": "#000", "domainWidth": 2, "tickSize": -17, "tickWidth": 1.5, "tickColor": "#000", "zindex": 2}},
        "y": {"datum": 1, "type": "quantitative", "scale": {"type": "log", "domain": [0.0032, 482], "nice": false},
          "axis": {"orient": "right", "values": [0.004,0.005,0.006,0.007,0.008,0.009,0.01,0.02,0.03,0.04,0.05,0.06,0.07,0.08,0.09,0.1,0.2,0.3,0.4,0.5,0.6,0.7,0.8,0.9,1,2,3,4,5,6,7,8,9,10,20,30,40,50,60,70,80,90,100,200,300,400],
            "labels": false, "title": null, "grid": false, "domain": true, "domainColor": "#000", "domainWidth": 2,
            "tickSize": {"condition": {"test": "indexof([0.01,0.1,1,10,100], datum.value) >= 0", "value": -17}, "value": -9},
            "tickWidth": 1.5, "tickColor": "#000", "zindex": 2}}
      }
    }
  ],
  "resolve": {"axis": {"x": "independent", "y": "independent"}}
}
